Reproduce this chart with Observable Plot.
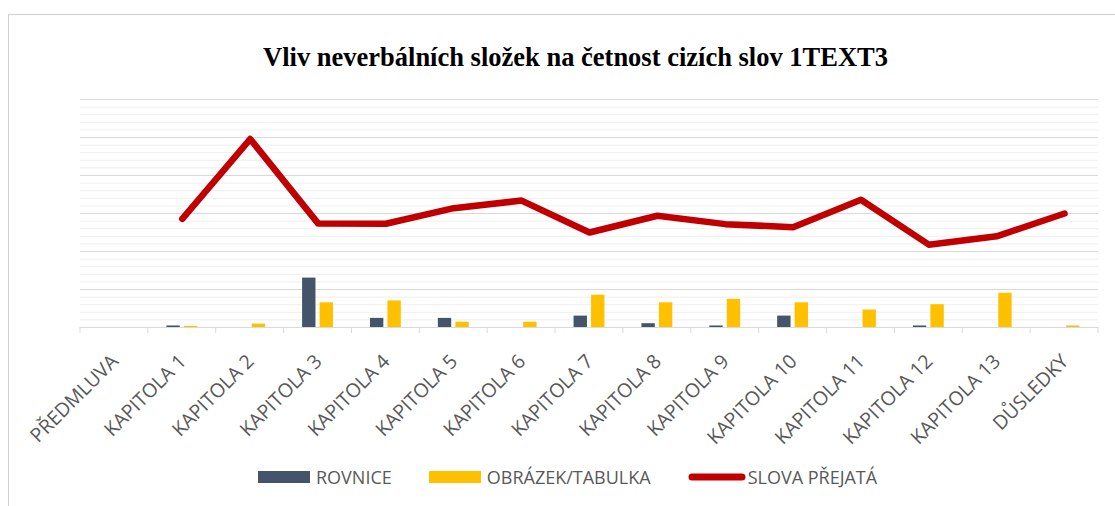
<!DOCTYPE html>
<html>
<head>
<meta charset="utf-8">
<script src="https://cdn.jsdelivr.net/npm/d3@7"></script>
<script src="https://cdn.jsdelivr.net/npm/@observablehq/plot@0.6"></script>
<style>
  html, body { margin: 0; padding: 0; background: #fff; overflow: hidden; }
  body { position: relative; width: 1115px; height: 506px; }
  #frame { position: absolute; left: 8px; top: 14px; width: 1200px; height: 600px; border: 1px solid #d0d0d0; box-sizing: border-box; }
  #title { position: relative; height: 30px; padding-top: 42px; padding-bottom: 8px; text-align: center; width: 1151px;
           font-family: "Liberation Serif", "Times New Roman", serif; font-weight: bold; font-size: 26.5px; line-height: 30px; color: #000; white-space: nowrap; }
  #chart { position: relative; height: 385px; }
  #chart svg { overflow: visible; }
  #legend { position: relative; margin-top: 0px; margin-left: 258px; height: 24px; display: flex; align-items: center;
            font-family: "Open Sans", sans-serif; font-size: 18px; color: #595959; white-space: nowrap; }
  .item { display: flex; align-items: center; margin-right: 37px; }
  .sw { display: inline-block; width: 52px; height: 12px; margin-right: 6px; }
</style>
</head>
<body>
<div id="frame"></div>
<div id="title">Vliv neverbálních složek na četnost cizích slov 1TEXT3</div>
<div id="chart"></div>
<div id="legend"></div>
<script>
const categories = ["PŘEDMLUVA","KAPITOLA 1","KAPITOLA 2","KAPITOLA 3","KAPITOLA 4","KAPITOLA 5","KAPITOLA 6","KAPITOLA 7","KAPITOLA 8","KAPITOLA 9","KAPITOLA 10","KAPITOLA 11","KAPITOLA 12","KAPITOLA 13","DŮSLEDKY"];
const rovnice = [0, 0.2, 0, 6.5, 1.2, 1.2, 0, 1.5, 0.5, 0.2, 1.5, 0, 0.2, 0, 0];
const obrazekTabulka = [0, 0.15, 0.45, 3.25, 3.5, 0.7, 0.7, 4.25, 3.25, 3.7, 3.25, 2.3, 3.0, 4.5, 0.2];
const slovaPrejata = [null, 14.3, 24.8, 13.7, 13.65, 15.7, 16.7, 12.5, 14.7, 13.6, 13.2, 16.8, 10.9, 12.0, 15.0];
const seriesNames = ["ROVNICE", "OBRÁZEK/TABULKA", "SLOVA PŘEJATÁ"];
const seriesColors = ["#44546a", "#ffc000", "#c00000"];
const yMax = 30;
const minorStep = 1, majorStep = 5;

const rovData = categories.map((c, i) => ({cat: c, v: rovnice[i]}));
const obrData = categories.map((c, i) => ({cat: c, v: obrazekTabulka[i]}));
const lineData = categories.map((c, i) => ({cat: c, v: slovaPrejata[i]}));
const gridMinor = d3.range(minorStep, yMax + 0.001, minorStep).filter(v => v % majorStep !== 0);
const gridMajor = d3.range(majorStep, yMax + 0.001, majorStep);

const axisTicks = (index, scales, values, dims) => {
  const x = scales.x;
  const bw = typeof x.bandwidth === "function" ? x.bandwidth() : (x.bandwidth ?? (x(categories[1]) - x(categories[0])));
  const y0 = dims.height - dims.marginBottom;
  const g = d3.create("svg:g").attr("stroke", "#d9d9d9").attr("stroke-width", 1);
  const edges = categories.map(c => x(c)).concat([x(categories[categories.length - 1]) + bw]);
  for (const e of edges) {
    g.append("line").attr("x1", e).attr("x2", e).attr("y1", y0).attr("y2", y0 + 6);
  }
  return g.node();
};

const plot = Plot.plot({
  width: 1115,
  height: 385,
  marginTop: 19,
  marginBottom: 138,
  marginLeft: 80,
  marginRight: 17,
  style: {fontFamily: "Open Sans, sans-serif", fontSize: "18px", color: "#595959", background: "transparent", overflow: "visible"},
  x: {domain: categories, padding: 0, round: false, axis: null},
  y: {domain: [0, yMax], axis: null},
  marks: [
    Plot.ruleY(gridMinor, {stroke: "#efefef", strokeWidth: 1}),
    Plot.ruleY(gridMajor, {stroke: "#d9d9d9", strokeWidth: 1}),
    Plot.barY(rovData, {x: "cat", y: "v", fill: seriesColors[0], insetLeft: 18.5, insetRight: 36}),
    Plot.barY(obrData, {x: "cat", y: "v", fill: seriesColors[1], insetLeft: 36, insetRight: 18.5}),
    Plot.ruleY([0], {stroke: "#d9d9d9", strokeWidth: 1}),
    axisTicks,
    Plot.lineY(lineData, {x: "cat", y: "v", stroke: seriesColors[2], strokeWidth: 6.5, strokeLinecap: "round", strokeLinejoin: "round"}),
    Plot.text(categories, {x: d => d, frameAnchor: "bottom", rotate: -45, textAnchor: "end", lineAnchor: "bottom", dx: 5, dy: 35, fill: "#595959", fontSize: 19.5, fontFamily: "Open Sans"})
  ]
});
document.getElementById("chart").appendChild(plot);

const legend = document.getElementById("legend");
seriesNames.forEach((name, i) => {
  const item = document.createElement("div");
  item.className = "item";
  if (i < 2) {
    const sw = document.createElement("span");
    sw.className = "sw";
    sw.style.background = seriesColors[i];
    item.appendChild(sw);
  } else {
    const ns = "http://www.w3.org/2000/svg";
    const svg = document.createElementNS(ns, "svg");
    svg.setAttribute("width", 58); svg.setAttribute("height", 10);
    svg.style.marginRight = "2px";
    const ln = document.createElementNS(ns, "line");
    ln.setAttribute("x1", 4); ln.setAttribute("x2", 54); ln.setAttribute("y1", 5); ln.setAttribute("y2", 5);
    ln.setAttribute("stroke", seriesColors[i]); ln.setAttribute("stroke-width", 7); ln.setAttribute("stroke-linecap", "round");
    svg.appendChild(ln);
    item.appendChild(svg);
  }
  const t = document.createElement("span");
  t.textContent = name;
  item.appendChild(t);
  legend.appendChild(item);
});
</script>
</body>
</html>
